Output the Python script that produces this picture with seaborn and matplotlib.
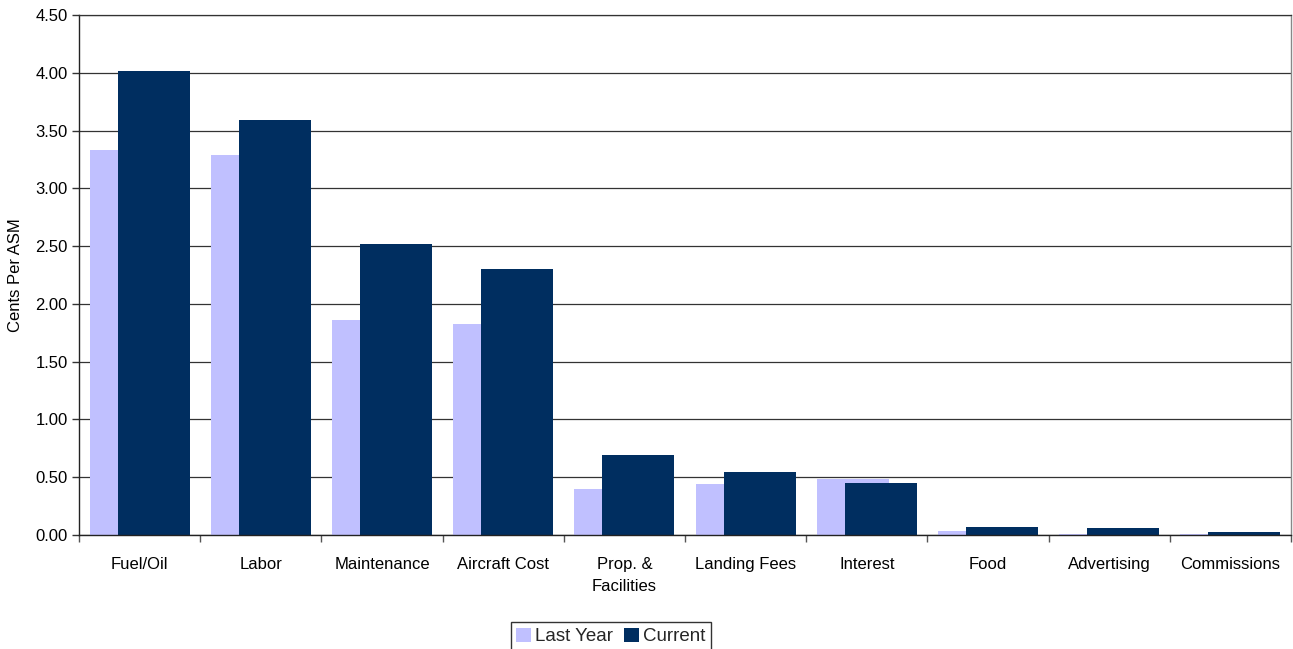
import matplotlib
matplotlib.use("Agg")
import matplotlib.pyplot as plt
import seaborn as sns
import numpy as np
import pandas as pd
from matplotlib.ticker import FixedLocator, FormatStrFormatter

categories = ["Fuel/Oil", "Labor", "Maintenance", "Aircraft Cost", "Prop. &\nFacilities",
              "Landing Fees", "Interest", "Food", "Advertising", "Commissions"]
last_year = [3.33, 3.29, 1.86, 1.83, 0.40, 0.44, 0.485, 0.035, 0.005, 0.005]
current = [4.015, 3.59, 2.52, 2.30, 0.69, 0.545, 0.45, 0.07, 0.06, 0.026]
series_names = ["Last Year", "Current"]
colors = {"Last Year": "#C0C0FF", "Current": "#002E60"}

sns.set_theme(style="white")
plt.rcParams['font.family'] = ['Liberation Sans', 'DejaVu Sans']

idx = np.arange(len(categories))
df_last = pd.DataFrame({"pos": idx - 0.115, "value": last_year})
df_cur = pd.DataFrame({"pos": idx + 0.115, "value": current})

fig = plt.figure(figsize=(12.93, 6.49), dpi=100)
ax = fig.add_axes([79/1293, 114/649, (1291-79)/1293, 520/649])
ax.set_axisbelow(True)

bw = 0.594
sns.barplot(data=df_last, x="pos", y="value", native_scale=True, width=bw,
            color=colors["Last Year"], saturation=1, ax=ax, label="Last Year",
            errorbar=None, linewidth=0)
sns.barplot(data=df_cur, x="pos", y="value", native_scale=True, width=bw,
            color=colors["Current"], saturation=1, ax=ax, label="Current",
            errorbar=None, linewidth=0)

ax.set_xlim(-0.5, len(categories) - 0.5)
ax.set_ylim(0, 4.5)
ax.yaxis.set_major_locator(FixedLocator(np.arange(0, 4.51, 0.5)))
ax.yaxis.set_major_formatter(FormatStrFormatter("%.2f"))
ax.set_xticks(idx)
ax.set_xticklabels(categories, fontsize=12, color="#000000", linespacing=1.6)
ax.set_xticks(np.arange(-0.5, len(categories), 1.0), minor=True)
ax.tick_params(axis="x", which="major", length=0, pad=15.5)
ax.tick_params(axis="x", which="minor", length=5, width=1, color="#555555", direction="out", bottom=True)
ax.tick_params(axis="y", which="major", length=5, width=1, color="#333333", direction="out", left=True,
               labelsize=12, labelcolor="#000000", pad=3)
ax.yaxis.grid(True, color="#333333", linewidth=0.9)
ax.xaxis.grid(False)
ax.set_xlabel("")
ax.set_ylabel("Cents Per ASM", fontsize=12, color="#000000", labelpad=9)

for side in ["left", "bottom"]:
    ax.spines[side].set_color("#222222")
    ax.spines[side].set_linewidth(1.0)
ax.spines["right"].set_color("#888888")
ax.spines["top"].set_color("#333333")
ax.spines["right"].set_linewidth(1.0)
ax.spines["top"].set_linewidth(0.9)

leg = ax.legend(loc="upper center", bbox_to_anchor=(611/1293, 1 - 622/649),
                bbox_transform=fig.transFigure, ncol=2, frameon=True, fancybox=False,
                fontsize=13.5, handlelength=0.8, handleheight=0.8, handletextpad=0.2,
                columnspacing=0.6, borderpad=0.3, borderaxespad=0)
leg.get_frame().set_edgecolor("#000000")
leg.get_frame().set_linewidth(1.0)

fig.savefig("out.png", dpi=100)
